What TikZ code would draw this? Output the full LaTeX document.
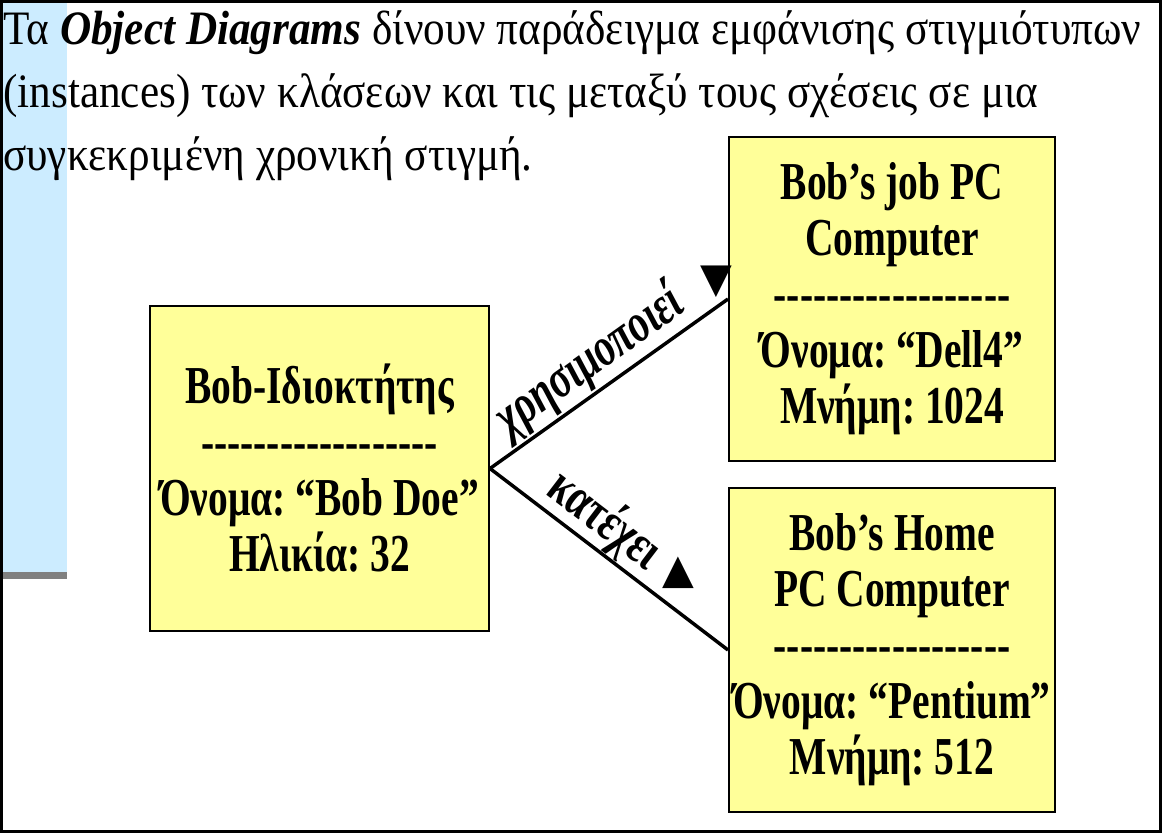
\documentclass[tikz,border=0pt]{standalone}
\usepackage{fontspec}
\setmainfont{Liberation Serif}[FakeStretch=0.74]
\newfontfamily\introfont{Liberation Serif}[FakeStretch=0.9]
\newfontfamily\symfont{DejaVu Sans}
\frenchspacing
\definecolor{notefill}{RGB}{255,255,153}
\definecolor{slideblue}{RGB}{204,236,255}
\definecolor{slideshadow}{RGB}{128,128,128}
% hyphens kept apart so that no dash ligature forms
\newcommand{\attrsep}{-{}-{}-{}-{}-{}-{}-{}-{}-{}-{}-{}-{}-{}-{}-{}-{}-{}-}

\begin{document}
\begin{tikzpicture}[
      x=0.75pt, y=-0.75pt,
      objbox/.style={
        draw=black,
        line width=1.5pt,
        fill=notefill,
        align=center,
        inner sep=0pt,
        font=\fontsize{40pt}{42pt}\selectfont\bfseries
      },
      link/.style={draw=black, line width=2.6pt},
      linklabel/.style={
        sloped, above,
        inner sep=1pt,
        font=\fontsize{41pt}{42pt}\selectfont\bfseries
      },
      dirmark/.style={inner sep=0pt, font=\fontsize{31pt}{31pt}\selectfont\symfont},
  ]
  \useasboundingbox (0,0) rectangle (1162,833);

        % slide stripe
        \fill[slideblue] (2,2) rectangle (67,572);
        \fill[slideshadow] (2,572) rectangle (67,579);

        % intro text
        \node[anchor=north west, align=left, inner sep=0pt,
              font=\fontsize{36pt}{47.5pt}\selectfont\introfont] (intro) at (3,10)
            {Τα \textbf{\textit{Object Diagrams}} δίνουν παράδειγμα εμφάνισης στιγμιότυπων\\
             (instances) των κλάσεων και τις μεταξύ τους σχέσεις σε μια\\
             συγκεκριμένη χρονική στιγμή.};

        % 1. owner object
        \node[objbox, minimum width=254.25pt, minimum height=243.75pt] (owner) at (319.5,468.5)
            {Bob-Ιδιοκτήτης\\ \attrsep\\ Όνομα: “Bob Doe”\\ Ηλικία: 32};
        % 2. job computer
        \node[objbox, minimum width=244.5pt, minimum height=243pt] (jobpc) at (892,299)
            {Bob’s job PC\\ Computer\\ \attrsep\\ Όνομα: “Dell4”\\ Μνήμη: 1024};
        % 3. home computer
        \node[objbox, minimum width=244.5pt, minimum height=243pt] (homepc) at (892,650)
            {Bob’s Home\\ PC Computer\\ \attrsep\\ Όνομα: “Pentium”\\ Μνήμη: 512};

        % links
        \draw[link] (owner.east)
            -- node[linklabel, pos=0.49] (useslbl) {\itshape χρησιμοποιεί}
               node[dirmark, pos=0.95, yshift=19.5pt] (usesdir) {▼}
            (jobpc.west);
        \draw[link] (owner.east)
            -- node[linklabel, pos=0.41, inner sep=0pt] (ownslbl) {κατέχει}
               node[dirmark, pos=0.79, yshift=29pt] (ownsdir) {▲}
            (homepc.west);

        % frame
        \draw[line width=2.25pt] (1.5,1.5) rectangle (1160.5,831.5);
  \end{tikzpicture}
\end{document}
